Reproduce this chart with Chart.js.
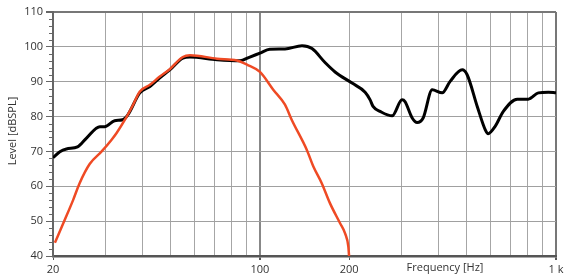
<!DOCTYPE html>
<html>
<head>
<meta charset="utf-8">
<script src="https://cdn.jsdelivr.net/npm/chart.js@4/dist/chart.umd.min.js"></script>
<style>
  html, body { margin: 0; padding: 0; background: #fff; }
  #wrap { width: 565px; height: 279px; position: relative; }
</style>
</head>
<body>
<div id="wrap"><canvas id="c"></canvas></div>
<script>
// ---- data ----
const blackFreq = [20, 21.1, 22.2, 24.2, 26.0, 28.8, 29.9, 32.3, 34.4, 35.8, 39.3, 42.5, 45.9, 49.6, 54.9, 58.0, 71.6, 85.6, 92, 100, 108, 121.5, 138.7, 149.9, 165.9, 179.4, 204.7, 226.6, 235.6, 241, 254.6, 279.6, 302, 309, 326.8, 339.6, 355.8, 381.8, 412.6, 439, 482, 501, 542, 577, 590, 623, 664, 740, 806, 872, 942, 1000];
const blackLevel = [68.2, 69.9, 70.7, 71.3, 73.9, 77.1, 77.1, 78.8, 79.1, 80.5, 86.8, 88.6, 91.1, 93.4, 96.8, 97.1, 96.3, 96.0, 97.0, 98.2, 99.3, 99.4, 100.3, 99.5, 95.5, 92.8, 89.6, 87.0, 84.8, 82.9, 81.5, 80.2, 84.8, 84.3, 79.6, 78.3, 79.6, 87.7, 86.8, 90.1, 93.4, 92.0, 82.9, 76.2, 75.1, 77.2, 81.5, 85.0, 85.0, 86.8, 87.0, 86.8];

const redFreq = [20.3, 21.9, 23.4, 24.6, 26.6, 29.2, 31.5, 32.8, 35.0, 37.3, 39.3, 42.5, 45.9, 49.6, 54.9, 58.0, 71.6, 83.6, 90.4, 100, 110.9, 121.5, 128, 143.9, 151.5, 161.7, 172.5, 186.5, 193.9, 198.9, 200];
const redLevel = [43.8, 50.3, 56.1, 60.9, 66.4, 70.0, 73.3, 75.3, 79.1, 83.4, 87.2, 89.1, 91.5, 93.6, 97.1, 97.6, 96.6, 96.1, 94.9, 92.8, 87.7, 83.4, 79.1, 70.5, 65.7, 60.9, 55.1, 49.4, 46.5, 42.7, 40];

const xGridValues = [20, 30, 40, 50, 60, 70, 80, 90, 100, 200, 300, 400, 500, 600, 700, 800, 900, 1000];
const xTickLabels = {20: '20', 100: '100', 200: '200', 1000: '1 k'};
const yMin = 40, yMax = 110, yStep = 10, yMinorStep = 2;

const FONT = '"Open Sans", "DejaVu Sans", sans-serif';

const toPts = (xs, ys) => xs.map((x, i) => ({x: x, y: ys[i]}));

const extras = {
  id: 'extras',
  afterDraw(chart) {
    const ctx = chart.ctx;
    const ys = chart.scales.y;
    const area = chart.chartArea;
    ctx.save();
    // minor ticks on left axis
    ctx.strokeStyle = '#666';
    ctx.lineWidth = 1;
    for (let v = yMin; v <= yMax; v += yMinorStep) {
      if (v % yStep === 0) continue;
      const py = Math.round(ys.getPixelForValue(v)) + 0.5;
      ctx.beginPath();
      ctx.moveTo(area.left - 4, py);
      ctx.lineTo(area.left, py);
      ctx.stroke();
    }
    // axis titles
    ctx.fillStyle = '#333';
    ctx.font = '11px ' + FONT;
    ctx.textAlign = 'center';
    ctx.textBaseline = 'middle';
    ctx.fillText('Frequency [Hz]', area.right - 111, 268);
    ctx.translate(13, (area.top + area.bottom) / 2 - 3);
    ctx.rotate(-Math.PI / 2);
    ctx.fillText('Level [dBSPL]', 0, 0);
    ctx.restore();
  }
};

new Chart(document.getElementById('c'), {
  type: 'line',
  data: {
    datasets: [
      {
        label: 'red',
        data: toPts(redFreq, redLevel),
        borderColor: '#ef4a24',
        borderWidth: 2.5,
        pointRadius: 0,
        cubicInterpolationMode: 'monotone',
        fill: false,
        order: 0
      },
      {
        label: 'black',
        data: toPts(blackFreq, blackLevel),
        borderColor: '#000',
        borderWidth: 3,
        pointRadius: 0,
        cubicInterpolationMode: 'monotone',
        fill: false,
        order: 1
      }
    ]
  },
  options: {
    responsive: true,
    maintainAspectRatio: false,
    animation: false,
    events: [],
    layout: { padding: { top: 12, right: 9, left: 0, bottom: 0 } },
    plugins: { legend: { display: false }, tooltip: { enabled: false } },
    scales: {
      x: {
        type: 'logarithmic',
        min: 20,
        max: 1000,
        afterBuildTicks(scale) { scale.ticks = xGridValues.map(v => ({value: v})); },
        afterFit(scale) { scale.height = 23; scale.paddingRight = 0; scale.paddingLeft = 0; },
        border: { color: '#555', width: 2.5 },
        grid: {
          color(ctx) {
            const v = ctx.tick && ctx.tick.value;
            if (v === 1000) return '#777';
            if (v === 100) return '#888';
            return '#a6a6a6';
          },
          lineWidth(ctx) {
            const v = ctx.tick && ctx.tick.value;
            return (v === 100 || v === 1000) ? 2 : 1;
          },
          tickColor(ctx) {
            const v = ctx.tick && ctx.tick.value;
            return xTickLabels[v] ? '#555' : 'rgba(0,0,0,0)';
          },
          tickLength: 4
        },
        ticks: {
          autoSkip: false,
          maxRotation: 0,
          padding: 3,
          color: '#333',
          font: { family: FONT, size: 11 },
          callback(value) { return xTickLabels[value] || ''; }
        }
      },
      y: {
        min: yMin,
        max: yMax,
        afterFit(scale) { scale.width = 53; },
        border: { color: '#666', width: 2 },
        grid: {
          color(ctx) {
            return ctx.tick && ctx.tick.value === yMax ? '#777' : '#a0a0a0';
          },
          lineWidth(ctx) {
            return ctx.tick && ctx.tick.value === yMax ? 2 : 1;
          },
          tickColor: '#666',
          tickLength: 7
        },
        ticks: {
          stepSize: yStep,
          padding: 3,
          color: '#333',
          font: { family: FONT, size: 11 }
        }
      }
    }
  },
  plugins: [extras]
});
</script>
</body>
</html>
